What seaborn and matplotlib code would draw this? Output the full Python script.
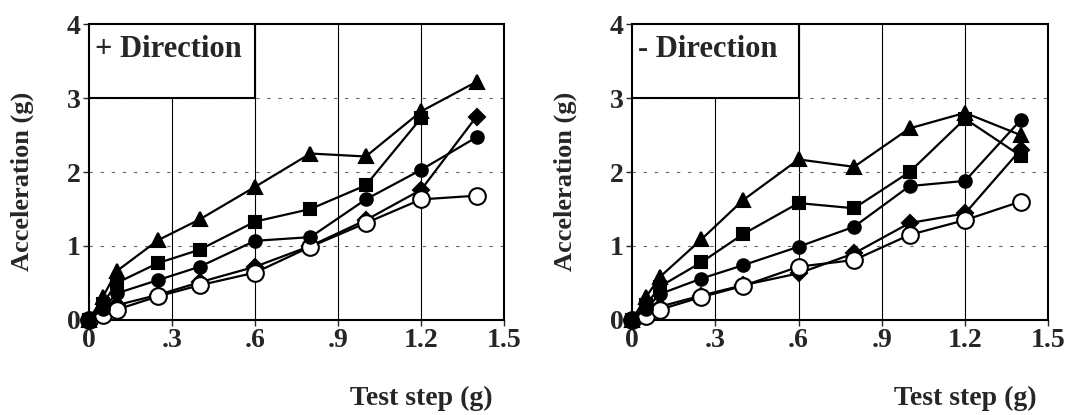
import numpy as np
import pandas as pd
import matplotlib
matplotlib.use("Agg")
import matplotlib.pyplot as plt
from matplotlib.patches import Rectangle
import seaborn as sns

steps = [0, 0.05, 0.1, 0.25, 0.4, 0.6, 0.8, 1.0, 1.2, 1.4]

# + Direction
pos_tri = [0, 0.31, 0.66, 1.08, 1.36, 1.80, 2.25, 2.21, 2.82, 3.22]
pos_sq = [0, 0.22, 0.50, 0.77, 0.95, 1.33, 1.50, 1.82, 2.73, np.nan]
pos_circ = [0, 0.15, 0.36, 0.54, 0.72, 1.07, 1.12, 1.63, 2.03, 2.47]
pos_dia = [0, 0.10, 0.20, 0.34, 0.51, 0.72, 1.00, 1.35, 1.76, 2.75]
pos_open = [0, 0.07, 0.14, 0.32, 0.47, 0.64, 0.99, 1.31, 1.63, 1.68]

# - Direction
neg_tri = [0, 0.31, 0.58, 1.09, 1.62, 2.17, 2.07, 2.59, 2.80, 2.50]
neg_sq = [0, 0.20, 0.45, 0.78, 1.16, 1.58, 1.51, 2.00, 2.72, 2.22]
neg_circ = [0, 0.15, 0.35, 0.56, 0.74, 0.99, 1.26, 1.81, 1.88, 2.70]
neg_dia = [0, 0.08, 0.18, 0.33, 0.47, 0.63, 0.90, 1.31, 1.44, 2.30]
neg_open = [0, 0.06, 0.14, 0.31, 0.46, 0.72, 0.81, 1.15, 1.35, 1.60]

panels = [
    ("+ Direction", [pos_dia, pos_open, pos_circ, pos_sq, pos_tri]),
    ("- Direction", [neg_dia, neg_open, neg_circ, neg_sq, neg_tri]),
]
markers = ["D", "o", "o", "s", "^"]
msizes = [8, 12, 9, 9, 10]
faces = ["black", "white", "black", "black", "black"]

xticks = [0, 0.3, 0.6, 0.9, 1.2, 1.5]
xticklabels = ["0", ".3", ".6", ".9", "1.2", "1.5"]
yticks = [0, 1, 2, 3, 4]

sns.set_style("white")
plt.rcParams["font.family"] = ["Liberation Serif", "DejaVu Serif"]
plt.rcParams["font.weight"] = "bold"

fig = plt.figure(figsize=(10.7, 4.15), dpi=100)
axes = [fig.add_axes([0.0832, 0.229, 0.388, 0.713]),
        fig.add_axes([0.5907, 0.229, 0.389, 0.713])]

for ax, (title, series) in zip(axes, panels):
    for vals, m, ms, fc in zip(series, markers, msizes, faces):
        df = pd.DataFrame({"step": steps, "acc": vals}).dropna()
        sns.lineplot(data=df, x="step", y="acc", ax=ax, color="black",
                     marker=m, markersize=ms, markerfacecolor=fc,
                     markeredgecolor="black", markeredgewidth=1.5,
                     linewidth=1.6, clip_on=False, zorder=5)
    ax.set_xlim(0, 1.5)
    ax.set_ylim(0, 4)
    ax.set_xticks(xticks)
    ax.set_xticklabels(xticklabels)
    ax.set_yticks(yticks)
    for x in xticks[1:-1]:
        ax.axvline(x, color="black", linewidth=0.8, zorder=1)
    for y in [1, 2, 3]:
        ax.axhline(y, color="#666666", linewidth=0.8, linestyle=(0, (3, 7)), zorder=1)
    ax.add_patch(Rectangle((0, 3), 0.6, 1, facecolor="white", edgecolor="black",
                           linewidth=1.5, zorder=3))
    ax.text(0.02, 3.66, title, fontsize=22, fontweight="bold", va="center",
            ha="left", zorder=4)
    ax.tick_params(axis="both", labelsize=20, direction="out", length=4,
                   width=1, bottom=True, left=True, pad=2)
    for lab in ax.get_xticklabels() + ax.get_yticklabels():
        lab.set_fontweight("bold")
    for s in ax.spines.values():
        s.set_color("black")
        s.set_linewidth(1.5)
    ax.set_xlabel("Test step (g)", fontsize=20, fontweight="bold")
    ax.set_ylabel("Acceleration (g)", fontsize=19, fontweight="bold")
    ax.xaxis.label.set_va("center")
    ax.yaxis.label.set_va("center")
    ax.xaxis.set_label_coords(0.80, -0.265)
    ax.yaxis.set_label_coords(-0.16, 0.47)

fig.savefig("out.png", dpi=100)
